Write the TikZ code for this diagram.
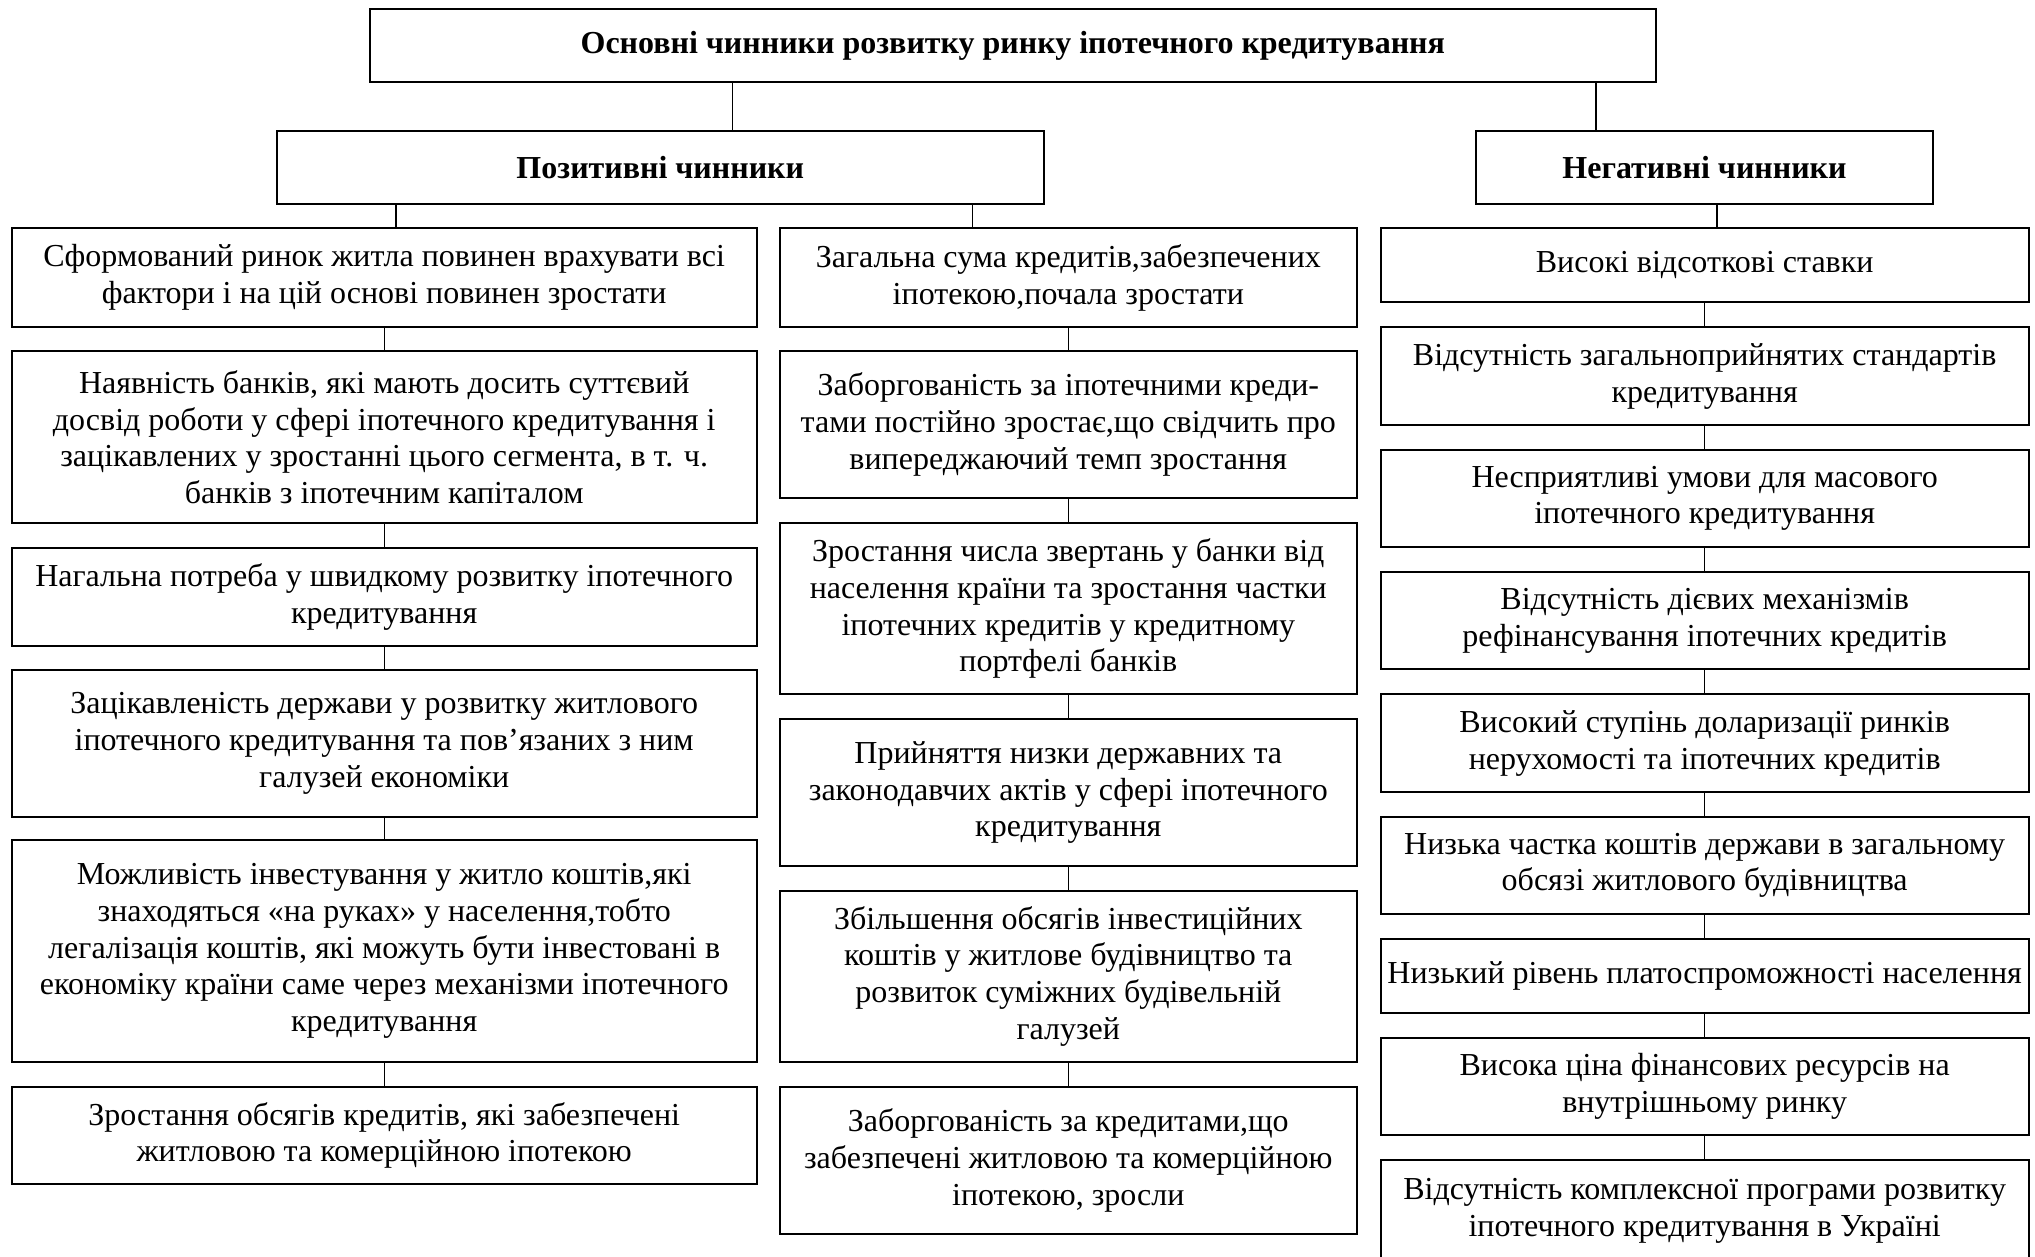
\documentclass[tikz,border=0pt]{standalone}
\usepackage{fontspec}
\setmainfont{Liberation Serif}
\begin{document}
\begin{tikzpicture}[x=0.375pt,y=-0.375pt,
  box/.style={draw, line width=0.8pt, inner sep=0pt, outer sep=0pt, align=center,
    font=\fontsize{12}{13.8}\selectfont},
  head/.style={box, font=\fontsize{12}{13.8}\selectfont\bfseries},
  colL/.style={box, minimum width=279.4pt},
  colM/.style={box, minimum width=216.2pt},
  colR/.style={box, minimum width=243pt},
  link/.style={line width=0.5pt}]
\useasboundingbox (0,0) rectangle (2035,1256);

% headings
\node[head, minimum width=482.4pt, minimum height=27.15pt] (top) at (1012.8,45.5)
  {Основні чинники розвитку ринку іпотечного кредитування};
\node[head, minimum width=287.8pt, minimum height=27.4pt] (pos) at (660.3,167.5)
  {Позитивні чинники};
\node[head, minimum width=171.4pt, minimum height=27.4pt] (neg) at (1704.5,167.5)
  {Негативні чинники};

% positive factors, first column
\node[colL, minimum height=37pt] (L1) at (384.2,277.65)
  {Сформований ринок житла повинен врахувати всі\\фактори і на цій основі повинен зростати};
\node[colL, minimum height=64.6pt] (L2) at (384.2,437.15)
  {Наявність банків, які мають досить суттєвий\\досвід роботи у сфері іпотечного кредитування і\\зацікавлених у зростанні цього сегмента, в т. ч.\\банків з іпотечним капіталом};
\node[colL, minimum height=36.75pt] (L3) at (384.2,596.7)
  {Нагальна потреба у швидкому розвитку іпотечного\\кредитування};
\node[colL, minimum height=55pt] (L4) at (384.2,743.35)
  {Зацікавленість держави у розвитку житлового\\іпотечного кредитування та пов’язаних з ним\\галузей економіки};
\node[colL, minimum height=83.1pt] (L5) at (384.2,950.85)
  {Можливість інвестування у житло коштів,які\\знаходяться «на руках» у населення,тобто\\легалізація коштів, які можуть бути інвестовані в\\економіку країни саме через механізми іпотечного\\кредитування};
\node[colL, minimum height=36.5pt] (L6) at (384.2,1135.35)
  {Зростання обсягів кредитів, які забезпечені\\житловою та комерційною іпотекою};

% positive factors, second column
\node[colM, minimum height=37pt] (M1) at (1068.3,277.65)
  {Загальна сума кредитів,забезпечених\\іпотекою,почала зростати};
\node[colM, minimum height=55pt] (M2) at (1068.3,424.35)
  {Заборгованість за іпотечними креди-\\тами постійно зростає,що свідчить про\\випереджаючий темп зростання};
\node[colM, minimum height=64pt] (M3) at (1068.3,608.65)
  {Зростання числа звертань у банки від\\населення країни та зростання частки\\іпотечних кредитів у кредитному\\портфелі банків};
\node[colM, minimum height=55.1pt] (M4) at (1068.3,792.5)
  {Прийняття низки державних та\\законодавчих актів у сфері іпотечного\\кредитування};
\node[colM, minimum height=64.1pt] (M5) at (1068.3,976.2)
  {Збільшення обсягів інвестиційних\\коштів у житлове будівництво та\\розвиток суміжних будівельній\\галузей};
\node[colM, minimum height=55.2pt] (M6) at (1068.3,1160.35)
  {Заборгованість за кредитами,що\\забезпечені житловою та комерційною\\іпотекою, зросли};

% negative factors
\node[colR, minimum height=27.75pt] (R1) at (1704.65,265.3)
  {Високі відсоткові ставки};
\node[colR, minimum height=36.6pt] (R2) at (1704.65,376.15)
  {Відсутність загальноприйнятих стандартів\\кредитування};
\node[colR, minimum height=36.3pt] (R3) at (1704.65,498.35)
  {Несприятливі умови для масового\\іпотечного кредитування};
\node[colR, minimum height=36.6pt] (R4) at (1704.65,620.5)
  {Відсутність дієвих механізмів\\рефінансування іпотечних кредитів};
\node[colR, minimum height=36.9pt] (R5) at (1704.65,743.15)
  {Високий ступінь доларизації ринків\\нерухомості та іпотечних кредитів};
\node[colR, minimum height=36.5pt] (R6) at (1704.65,865.35)
  {Низька частка коштів держави в загальному\\обсязі житлового будівництва};
\node[colR, minimum height=27.6pt] (R7) at (1704.65,975.85)
  {Низький рівень платоспроможності населення};
\node[colR, minimum height=36.5pt] (R8) at (1704.65,1086.35)
  {Висока ціна фінансових ресурсів на\\внутрішньому ринку};
\node[colR, minimum height=38.25pt] (R9) at (1704.65,1211)
  {Відсутність комплексної програми розвитку\\іпотечного кредитування в Україні};

% branch positions of the connectors
\coordinate (xa) at (732.6,0);
\coordinate (xb) at (1596,0);
\coordinate (xc) at (396,0);
\coordinate (xd) at (972.6,0);
\coordinate (xe) at (1717,0);

\draw[link] (top.south -| xa) -- (pos.north -| xa);
\draw[link] (top.south -| xb) -- (neg.north -| xb);
\draw[link] (pos.south -| xc) -- (L1.north -| xc);
\draw[link] (pos.south -| xd) -- (M1.north -| xd);
\draw[link] (neg.south -| xe) -- (R1.north -| xe);

% chains within the columns
\foreach \a/\b in {L1/L2,L2/L3,L3/L4,L4/L5,L5/L6,
                   M1/M2,M2/M3,M3/M4,M4/M5,M5/M6,
                   R1/R2,R2/R3,R3/R4,R4/R5,R5/R6,R6/R7,R7/R8,R8/R9}
  \draw[link] (\a) -- (\b);
\end{tikzpicture}
\end{document}
